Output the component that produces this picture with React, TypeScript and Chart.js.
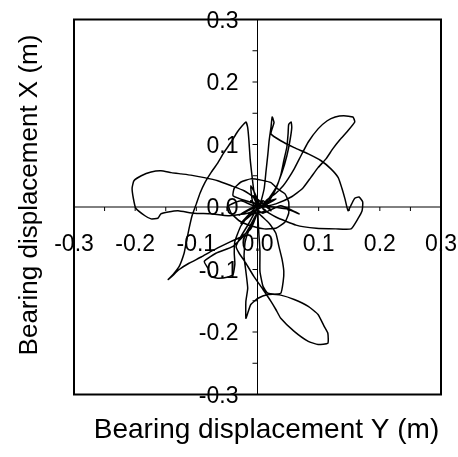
import React, { useEffect, useRef } from "react";
import { Chart, registerables } from "chart.js";

Chart.register(...registerables);

// Bearing trajectory, segment by segment.
// "Y" arrays = horizontal (Bearing displacement Y), "X" arrays = vertical (Bearing displacement X)
const startY = [0.001, 0.009, -0.007, 0.014, -0.011, 0.002];
const startX = [0.0, 0.01, -0.01, -0.006, 0.01, 0.002];

const westLoopY = [-0.007, -0.022, -0.043, -0.065, -0.087, -0.109, -0.125, -0.141, -0.158, -0.174, -0.19, -0.202, -0.205, -0.203, -0.199, -0.184, -0.174, -0.163, -0.158, -0.146, -0.13, -0.104, -0.076, -0.048, -0.016, 0.002];
const westLoopX = [0.016, 0.026, 0.034, 0.042, 0.047, 0.051, 0.053, 0.055, 0.058, 0.056, 0.05, 0.042, 0.03, 0.014, -0.002, -0.014, -0.019, -0.018, -0.011, -0.008, -0.006, -0.01, -0.011, -0.014, -0.01, -0.002];

const eastArcY = [0.006, 0.011, 0.014, 0.017, 0.019, 0.022, 0.024, 0.027, 0.022, 0.038, 0.06, 0.083, 0.104, 0.12, 0.132, 0.138, 0.143, 0.148, 0.154, 0.159, 0.166, 0.172, 0.171, 0.164, 0.153, 0.128, 0.096, 0.063, 0.03, 0.009];
const eastArcX = [0.01, 0.03, 0.058, 0.085, 0.106, 0.127, 0.144, 0.135, 0.117, 0.106, 0.095, 0.085, 0.074, 0.061, 0.047, 0.03, 0.013, -0.006, 0.005, 0.014, 0.016, 0.008, -0.006, -0.019, -0.035, -0.035, -0.034, -0.029, -0.016, -0.003];

const northEastLeafY = [0.014, 0.03, 0.042, 0.05, 0.06, 0.071, 0.083, 0.099, 0.114, 0.127, 0.141, 0.156, 0.159, 0.146, 0.135, 0.123, 0.112, 0.099, 0.087, 0.074, 0.055, 0.03, 0.009];
const northEastLeafX = [0.01, 0.022, 0.034, 0.045, 0.061, 0.082, 0.104, 0.125, 0.138, 0.144, 0.146, 0.144, 0.136, 0.12, 0.108, 0.093, 0.077, 0.063, 0.047, 0.03, 0.016, 0.005, 0.0];

const northSpikeY = [0.019, 0.03, 0.038, 0.043, 0.048, 0.05, 0.051, 0.055, 0.056, 0.053, 0.048, 0.04, 0.029, 0.009];
const northSpikeX = [0.01, 0.029, 0.051, 0.074, 0.096, 0.117, 0.132, 0.136, 0.127, 0.106, 0.082, 0.055, 0.029, 0.003];

const ringY = [-0.019, -0.04, -0.038, -0.027, -0.011, 0.006, 0.022, 0.033, 0.045, 0.051, 0.051, 0.045, 0.03, 0.011, -0.011, -0.03, -0.043, -0.047, -0.027, -0.001];
const ringX = [0.01, 0.018, 0.03, 0.04, 0.045, 0.043, 0.039, 0.029, 0.021, 0.008, -0.01, -0.024, -0.034, -0.035, -0.03, -0.022, -0.01, 0.002, 0.01, 0.0];

const westArcY = [-0.002, -0.006, -0.009, -0.012, -0.014, -0.016, -0.019, -0.025, -0.033, -0.043, -0.055, -0.066, -0.076, -0.086, -0.094, -0.1, -0.107, -0.112, -0.117, -0.12, -0.128, -0.138, -0.146, -0.141, -0.128, -0.112, -0.092, -0.076, -0.06, -0.043, -0.027, -0.011, -0.001];
const westArcX = [0.01, 0.026, 0.05, 0.077, 0.106, 0.127, 0.136, 0.13, 0.12, 0.104, 0.087, 0.069, 0.055, 0.039, 0.022, 0.005, -0.014, -0.035, -0.059, -0.074, -0.095, -0.108, -0.116, -0.112, -0.1, -0.09, -0.08, -0.071, -0.063, -0.055, -0.048, -0.035, -0.01];

const southWestLoopY = [-0.011, -0.027, -0.037, -0.038, -0.037, -0.04, -0.048, -0.065, -0.076, -0.081, -0.087, -0.068, -0.04, -0.019, 0.001];
const southWestLoopX = [-0.01, -0.03, -0.055, -0.074, -0.091, -0.108, -0.112, -0.114, -0.111, -0.098, -0.087, -0.074, -0.063, -0.042, -0.006];

const southTailY = [0.002, -0.011, -0.02, -0.022, -0.019, -0.016, -0.019, -0.019, -0.016, -0.011, 0.001, 0.017, 0.038, 0.042, 0.043, 0.04, 0.035, 0.03, 0.019, 0.002];
const southTailX = [-0.006, -0.03, -0.055, -0.079, -0.103, -0.13, -0.151, -0.178, -0.17, -0.156, -0.146, -0.14, -0.138, -0.119, -0.103, -0.083, -0.063, -0.042, -0.026, -0.01];

const southEastLeafY = [-0.001, -0.014, -0.027, -0.035, -0.03, -0.019, -0.006, 0.009, 0.022, 0.03, 0.038, 0.06, 0.083, 0.099, 0.115, 0.115, 0.109, 0.099, 0.083, 0.06, 0.038, 0.017, 0.009, 0.004, 0.004, 0.002, 0.001];
const southEastLeafX = [-0.003, -0.026, -0.047, -0.063, -0.074, -0.09, -0.111, -0.132, -0.151, -0.164, -0.178, -0.199, -0.215, -0.22, -0.218, -0.202, -0.191, -0.172, -0.159, -0.148, -0.141, -0.138, -0.127, -0.103, -0.071, -0.039, -0.006];

const centreStarY = [0.009, 0.038, 0.068, 0.047, -0.002, -0.03, 0.002, -0.011, -0.006, 0.03, 0.002, -0.027, 0.009, 0.022, -0.007, 0.001];
const centreStarX = [-0.01, 0.002, -0.011, -0.003, 0.002, -0.013, 0.005, 0.034, 0.003, 0.013, -0.003, -0.026, 0.01, -0.006, 0.018, 0.0];

// Axis ticks and labels
const tickValues = [-0.3, -0.25, -0.2, -0.15, -0.1, -0.05, 0, 0.05, 0.1, 0.15, 0.2, 0.25, 0.3];
const labelValues = [-0.3, -0.2, -0.1, 0, 0.1, 0.2, 0.3];
const labelTexts = ["-0.3", "-0.2", "-0.1", "0.0", "0.1", "0.2", "0.3"];
const xTitle = "Bearing displacement Y (m)";
const yTitle = "Bearing displacement X (m)";

const FONT = '"Liberation Sans", Arial, sans-serif';

const segmentsY = [startY, westLoopY, eastArcY, northEastLeafY, northSpikeY, ringY, westArcY, southWestLoopY, southTailY, southEastLeafY, centreStarY];
const segmentsX = [startX, westLoopX, eastArcX, northEastLeafX, northSpikeX, ringX, westArcX, southWestLoopX, southTailX, southEastLeafX, centreStarX];

const crossAxes = {
  id: "crossAxes",
  beforeDatasetsDraw(chart: any) {
    const { ctx, chartArea: a, scales } = chart;
    const xs = scales.x;
    const ys = scales.y;
    const x0 = xs.getPixelForValue(0);
    const y0 = ys.getPixelForValue(0);
    ctx.save();
    ctx.strokeStyle = "#000";
    ctx.lineWidth = 2;
    ctx.strokeRect(a.left, a.top, a.right - a.left, a.bottom - a.top);
    ctx.lineWidth = 1;
    ctx.beginPath();
    ctx.moveTo(a.left, y0);
    ctx.lineTo(a.right, y0);
    ctx.moveTo(x0, a.top);
    ctx.lineTo(x0, a.bottom);
    tickValues.forEach((v) => {
      const px = xs.getPixelForValue(v);
      ctx.moveTo(px, y0);
      ctx.lineTo(px, y0 + 4);
      const py = ys.getPixelForValue(v);
      ctx.moveTo(x0 - 5, py);
      ctx.lineTo(x0, py);
    });
    ctx.stroke();

    ctx.fillStyle = "#000";
    ctx.font = `23px ${FONT}`;
    ctx.textBaseline = "alphabetic";
    labelValues.forEach((v, i) => {
      const t = labelTexts[i];
      ctx.textAlign = "center";
      ctx.fillText(t, xs.getPixelForValue(v), y0 + 44);
      ctx.textAlign = "right";
      ctx.fillText(t, x0 - 19, ys.getPixelForValue(v) + 8);
    });

    ctx.font = `28px ${FONT}`;
    ctx.textAlign = "center";
    ctx.fillText(xTitle, 266.5, 438);
    ctx.save();
    ctx.translate(37, 195);
    ctx.rotate(-Math.PI / 2);
    ctx.font = `26px ${FONT}`;
    ctx.fillText(yTitle, 0, 0);
    ctx.restore();
    ctx.restore();
  },
};

export default function App() {
  const ref = useRef<HTMLCanvasElement | null>(null);
  useEffect(() => {
    if (!ref.current) return;
    const points: { x: number; y: number }[] = [];
    segmentsY.forEach((seg, s) => {
      seg.forEach((v, i) => points.push({ x: v, y: segmentsX[s][i] }));
    });
    const chart = new Chart(ref.current, {
      type: "scatter",
      data: {
        datasets: [
          {
            data: points,
            showLine: true,
            borderColor: "#000",
            borderWidth: 1.5,
            pointRadius: 0,
            fill: false,
            tension: 0.15,
          },
        ],
      },
      options: {
        responsive: false,
        animation: false,
        layout: { padding: { left: 74, right: 17, top: 19.5, bottom: 62.5 } },
        plugins: { legend: { display: false }, tooltip: { enabled: false } },
        scales: {
          x: { type: "linear", min: -0.3, max: 0.3, display: false },
          y: { type: "linear", min: -0.3, max: 0.3, display: false },
        },
      },
      plugins: [crossAxes],
    });
    return () => chart.destroy();
  }, []);
  return (
    <div style={{ position: "fixed", left: 0, top: 0, width: 458, height: 457, background: "#fff" }}>
      <canvas ref={ref} width={458} height={457} style={{ display: "block" }} />
    </div>
  );
}
